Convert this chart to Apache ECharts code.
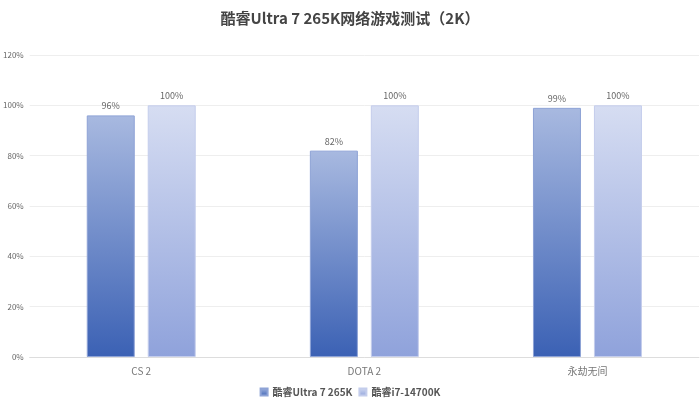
<!DOCTYPE html>
<html><head><meta charset="utf-8">
<script src="https://cdn.jsdelivr.net/npm/echarts@6/dist/echarts.min.js"></script>
<style>html,body{margin:0;padding:0;background:#fff}#c{width:700px;height:408px}</style>
</head><body><div id="c"></div>
<script>
const categories = ['CS 2', 'DOTA 2', '永劫无间'];
const ultra = [96, 82, 99];
const i7 = [100, 100, 100];
const yTicks = [0, 20, 40, 60, 80, 100, 120];
const font = '"Noto Sans CJK SC", "Noto Sans", sans-serif';
const grad = (a, b) => new echarts.graphic.LinearGradient(0, 0, 0, 1, [{offset: 0, color: a}, {offset: 1, color: b}]);
const chart = echarts.init(document.getElementById('c'));
chart.setOption({
  animation: false,
  title: {text: '酷睿Ultra 7 265K网络游戏测试（2K）', left: 'center', top: 6,
    textStyle: {fontFamily: font, fontSize: 15, fontWeight: 'bold', color: '#444'}},
  legend: {bottom: 6, itemWidth: 7, itemHeight: 7, itemGap: 6, icon: 'rect',
    textStyle: {fontFamily: font, fontSize: 10, color: '#555', fontWeight: 'bold'}},
  grid: {left: 28, right: 1, top: 55, bottom: 51},
  xAxis: {type: 'category', data: categories,
    axisLine: {lineStyle: {color: '#ddd'}}, axisTick: {show: false},
    axisLabel: {fontFamily: font, fontSize: 10, color: '#777', margin: 9}},
  yAxis: {type: 'value', min: yTicks[0], max: yTicks[yTicks.length - 1], interval: 20,
    axisLine: {show: false}, axisTick: {show: false},
    splitLine: {lineStyle: {color: '#eee'}},
    axisLabel: {fontFamily: font, fontSize: 8, color: '#666', formatter: '{value}%', margin: 6}},
  series: [
    {name: '酷睿Ultra 7 265K', type: 'bar', data: ultra, barWidth: 48, barGap: '27%',
      itemStyle: {color: grad('#a8b9e0', '#3b61b4'), borderColor: '#8ea3d6', borderWidth: 1},
      label: {show: true, position: 'top', formatter: '{c}%', fontSize: 9, color: '#666', fontFamily: font}},
    {name: '酷睿i7-14700K', type: 'bar', data: i7, barWidth: 48,
      itemStyle: {color: grad('#d6ddf2', '#8fa2db'), borderColor: '#c4cdec', borderWidth: 1},
      label: {show: true, position: 'top', formatter: '{c}%', fontSize: 9, color: '#666', fontFamily: font}}
  ]
});
</script></body></html>
